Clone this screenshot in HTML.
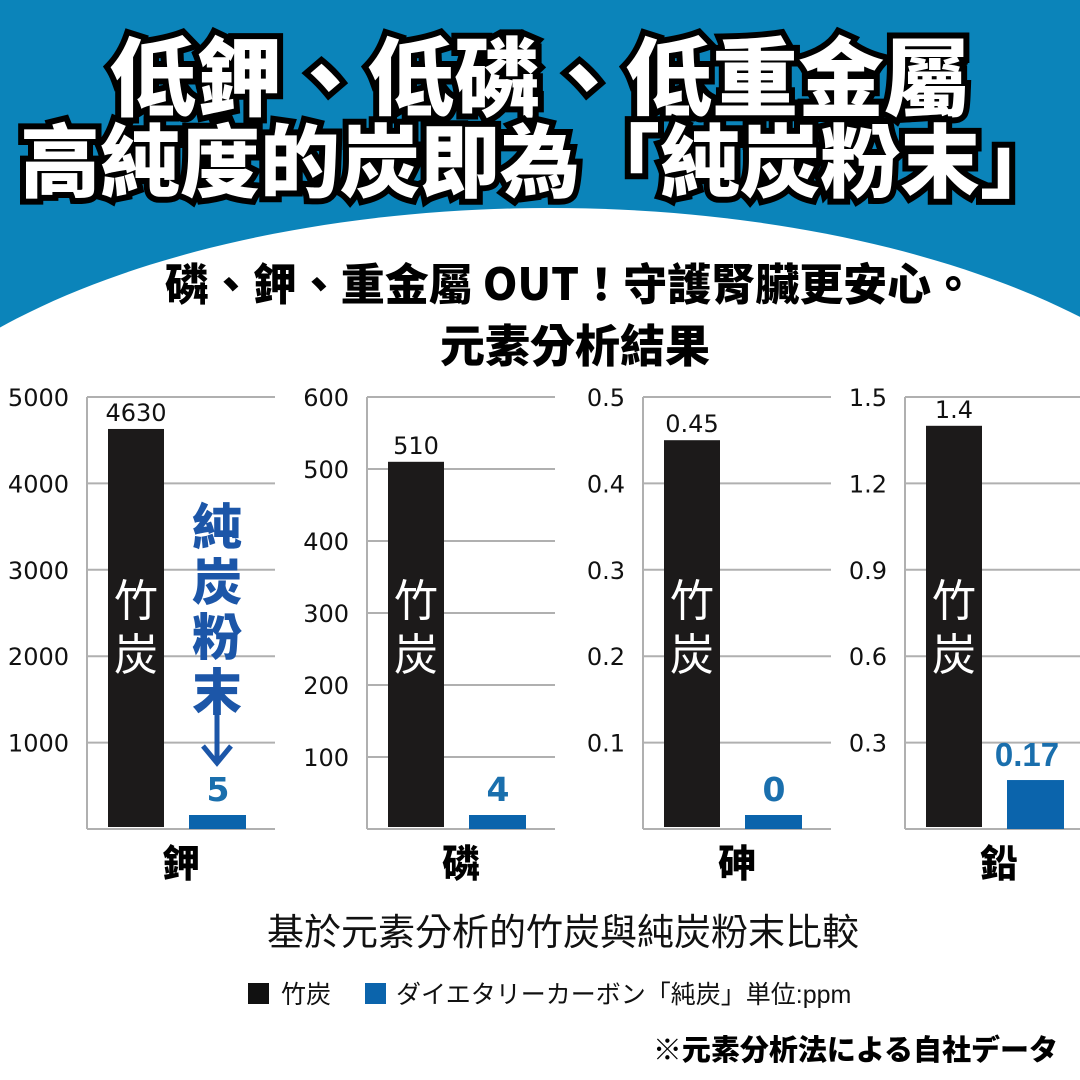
<!DOCTYPE html>
<html><head><meta charset="utf-8">
<style>
html,body{margin:0;padding:0}
body{width:1080px;height:1080px;position:relative;overflow:hidden;background:#fff;font-family:"Liberation Sans","Noto Sans CJK TC",sans-serif}
.t{position:absolute;left:0;width:1080px;text-align:center;white-space:nowrap;font-family:"Noto Sans CJK TC",sans-serif;font-weight:900;color:#fff;-webkit-text-stroke:12px #000;paint-order:stroke fill;line-height:1}
.h{position:absolute;left:0;width:1080px;text-align:center;white-space:nowrap;font-family:"Noto Sans CJK TC",sans-serif;font-weight:900;color:#000;line-height:1}
</style></head><body>
<svg style="position:absolute;left:0;top:0" width="1080" height="400">
<rect width="1080" height="400" fill="#0b84ba"/>
<ellipse cx="550" cy="545" rx="720" ry="337" fill="#fff"/>
<rect y="380" width="1080" height="20" fill="#fff"/>
</svg>
<div class="t" style="top:29px;font-size:86px;left:0">低鉀、低磷、低重金屬</div>
<div class="t" style="top:117px;font-size:80px">高純度的炭即為「純炭粉末」</div>
<div class="h" style="top:259px;font-size:44px;left:30px">磷、鉀、重金屬 OUT！守護腎臟更安心。</div>
<div class="h" style="top:320px;font-size:45px;left:35px">元素分析結果</div>
<svg id="chart" style="position:absolute;left:0;top:0" width="1080" height="1080"></svg>
<script>
const elements = ["鉀","磷","砷","鉛"];
const bambooValues = [4630, 510, 0.45, 1.4];
const pureValues = [5, 4, 0, 0.17];
const bambooLabels = ["4630","510","0.45","1.4"];
const pureLabels = ["5","4","0","0.17"];
const axisMax = [5000, 600, 0.5, 1.5];
const tick1 = ["1000","2000","3000","4000","5000"];
const tick2 = ["100","200","300","400","500","600"];
const tick3 = ["0.1","0.2","0.3","0.4","0.5"];
const tick4 = ["0.3","0.6","0.9","1.2","1.5"];
const ticks = [tick1,tick2,tick3,tick4];

const NS="http://www.w3.org/2000/svg";
const svg=document.getElementById('chart');
const axisX=[87,367,643,905];
const TOP=397,BOT=829;
function y(v,i){return BOT-(v/axisMax[i])*(BOT-TOP);}
function mk(tag,attrs,txt){const e=document.createElementNS(NS,tag);for(const k in attrs)e.setAttribute(k,attrs[k]);if(txt!==undefined)e.textContent=txt;svg.appendChild(e);return e;}
const F='"DejaVu Sans","Liberation Sans",sans-serif';
elements.forEach((el,i)=>{
  const ax=axisX[i];
  ticks[i].forEach(t=>{
    const yy=y(parseFloat(t),i);
    const g=mk('line',{x1:ax,x2:ax+188,y1:yy,y2:yy,stroke:'#b0b0b0','stroke-width':2});
    
    
    const l=mk('text',{x:ax-18,y:yy+9,'text-anchor':'end','font-size':24,fill:'#111','font-family':F},t);
    
    
  });
  const a=mk('line',{x1:ax,x2:ax,y1:TOP,y2:BOT,stroke:'#b0b0b0','stroke-width':2});
  
  
  const b=mk('line',{x1:ax,x2:ax+188,y1:BOT,y2:BOT,stroke:'#b0b0b0','stroke-width':2});
  
  
  const by=y(bambooValues[i],i);
  const r=mk('rect',{x:ax+21,y:by,width:56,height:BOT-by-2,fill:'#1c1a1a'});
  
  
  const bl=mk('text',{x:ax+49,y:by-8,'text-anchor':'middle','font-size':24,fill:'#111','font-family':F},bambooLabels[i]);
  
  
  const c1=mk('text',{x:ax+49,y:616,'text-anchor':'middle','font-size':44,fill:'#fff','font-family':'"Noto Sans CJK TC",sans-serif'},'竹');
  
  
  const c2=mk('text',{x:ax+49,y:670,'text-anchor':'middle','font-size':44,fill:'#fff','font-family':'"Noto Sans CJK TC",sans-serif'},'炭');
  
  
  let py=Math.min(y(pureValues[i],i),BOT-14);
  const p=mk('rect',{x:ax+102,y:py,width:57,height:BOT-py,fill:'#0b64ac'});
  
  
  const pl=mk('text',{x:i==3?ax+122:ax+131,y:py-14,'text-anchor':'middle','font-size':33,'font-weight':'bold',fill:'#1a6fad','font-family':i==3?'"Liberation Sans",sans-serif':F},pureLabels[i]);
  
  
  const cl=mk('text',{x:ax+94,y:877,'text-anchor':'middle','font-size':38,'font-weight':900,fill:'#000','font-family':'"Noto Sans CJK TC",sans-serif'},el);
  
  
});
["純","炭","粉","末"].forEach((ch,k)=>{
  const t=mk('text',{x:217,y:545+k*55,'text-anchor':'middle','font-size':50,'font-weight':900,fill:'#1c56a8','font-family':'"Noto Sans CJK TC",sans-serif'},ch);
  
  
});
const ar=mk('path',{d:'M217 712 L217 762 M203 746 L217 763 L231 746',stroke:'#1c56a8','stroke-width':5,fill:'none'});


</script>
<div class="h" style="top:911px;left:23px;font-size:37px;font-weight:400;color:#111">基於元素分析的竹炭與純炭粉末比較</div>
<div style="position:absolute;top:975px;left:248px;font-size:25px;color:#111;white-space:nowrap;font-family:'Liberation Sans','Noto Sans CJK JP',sans-serif;display:flex;align-items:center">
<span style="display:inline-block;width:21px;height:21px;background:#111;margin-right:12px"></span><span>竹炭</span>
<span style="display:inline-block;width:21px;height:21px;background:#0b64ac;margin:0 10px 0 34px"></span><span>ダイエタリーカーボン「純炭」単位:ppm</span>
</div>
<div style="position:absolute;top:1034px;right:22px;font-size:29px;font-weight:900;color:#000;white-space:nowrap;font-family:'Noto Sans CJK JP',sans-serif;line-height:1">※元素分析法による自社データ</div>
</body></html>
